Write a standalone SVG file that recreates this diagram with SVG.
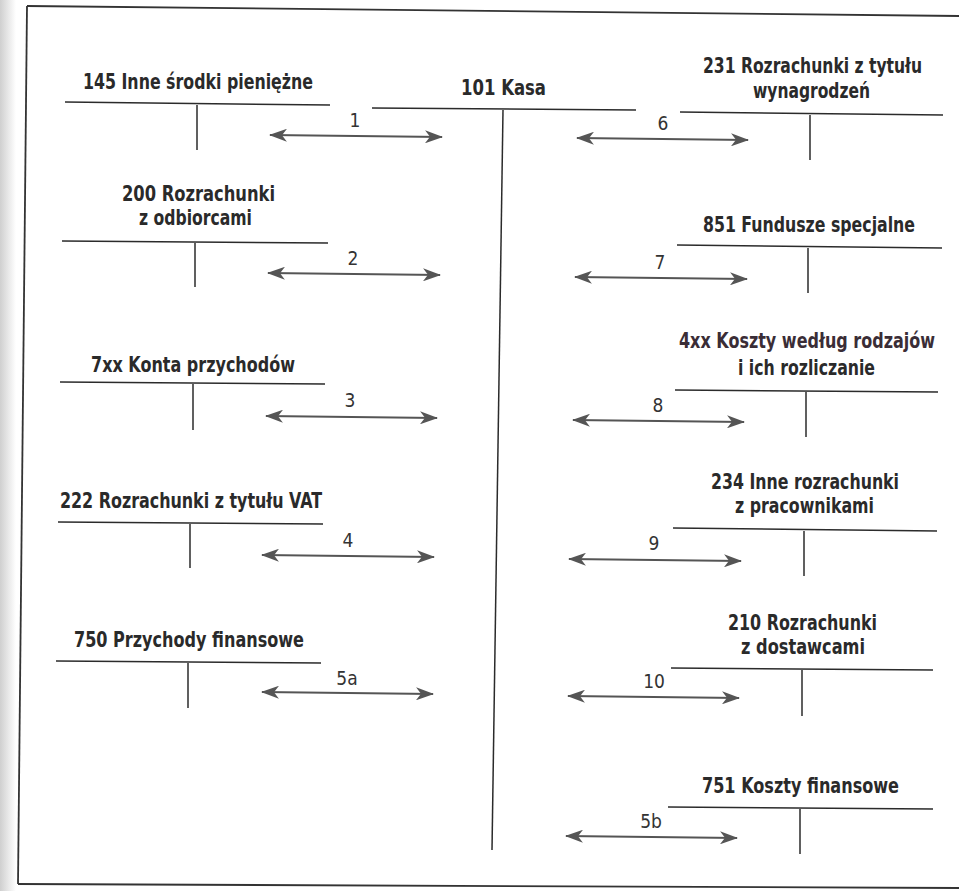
<svg xmlns="http://www.w3.org/2000/svg" width="959" height="891" viewBox="0 0 959 891">
  <defs>
    <linearGradient id="scanEdge" x1="0" y1="0" x2="1" y2="0">
      <stop offset="0" stop-color="#cfcfcf"/>
      <stop offset="1" stop-color="#ffffff"/>
    </linearGradient>
    <marker id="head" viewBox="0 0 18 13" markerWidth="18" markerHeight="13" refX="17" refY="6.5" orient="auto-start-reverse" markerUnits="userSpaceOnUse">
      <path d="M0,0 L18,6.5 L0,13 L5,6.5 Z" fill="#555"/>
    </marker>
    <style>
      .title { font-family: "Liberation Sans Narrow", "DejaVu Sans Condensed", "Liberation Sans", sans-serif; font-stretch: condensed; font-weight: bold; font-size: 21px; fill: #2a2a2a; text-anchor: middle; }
      .num { font-family: "Liberation Sans Narrow", "DejaVu Sans Condensed", "Liberation Sans", sans-serif; font-stretch: condensed; font-size: 19px; fill: #333; text-anchor: middle; }
      .t { stroke: #2b2b2b; stroke-width: 1.5; fill: none; }
      .frame { stroke: #333; stroke-width: 1.8; fill: none; }
      .arrow { stroke: #555; stroke-width: 2; fill: none; marker-start: url(#head); marker-end: url(#head); }
    </style>
  </defs>

  <rect x="0" y="0" width="959" height="891" fill="#ffffff"/>
  <rect x="0" y="0" width="16" height="891" fill="url(#scanEdge)"/>

  <g id="frame">
    <path class="frame" d="M27,6 L959,16"/>
    <path class="frame" d="M27,6 L18,884"/>
    <path class="frame" d="M18,884 L959,888" stroke-width="2.4"/>
  </g>

  <g id="acc-101">
    <text class="title" transform="scale(0.8,1)" x="629.375" y="95" textLength="106.25" lengthAdjust="spacingAndGlyphs">101  Kasa</text>
    <path class="t" d="M372,108 L636,110"/>
    <path class="t" d="M503,110 L492,850"/>
  </g>

  <g id="acc-145">
    <text class="title" transform="scale(0.8,1)" x="247.5" y="89" textLength="287.5" lengthAdjust="spacingAndGlyphs">145  Inne środki pieniężne</text>
    <path class="t" d="M65,102 L330,105"/>
    <path class="t" d="M197,105 L197,150"/>
  </g>

  <g id="acc-200">
    <text class="title" transform="scale(0.8,1)" x="248.125" y="201" textLength="191.25" lengthAdjust="spacingAndGlyphs">200  Rozrachunki</text>
    <text class="title" transform="scale(0.8,1)" x="244.375" y="225" textLength="141.25" lengthAdjust="spacingAndGlyphs">z odbiorcami</text>
    <path class="t" d="M62,241 L328,243"/>
    <path class="t" d="M195,243 L195,287"/>
  </g>

  <g id="acc-7xx">
    <text class="title" transform="scale(0.8,1)" x="241.25" y="372" textLength="255" lengthAdjust="spacingAndGlyphs">7xx  Konta przychodów</text>
    <path class="t" d="M60,382 L325,384"/>
    <path class="t" d="M193,384 L193,430"/>
  </g>

  <g id="acc-222">
    <text class="title" transform="scale(0.8,1)" x="238.75" y="508" textLength="327.5" lengthAdjust="spacingAndGlyphs">222  Rozrachunki z tytułu VAT</text>
    <path class="t" d="M58,522 L323,524"/>
    <path class="t" d="M190,524 L190,568"/>
  </g>

  <g id="acc-750">
    <text class="title" transform="scale(0.8,1)" x="236.25" y="647" textLength="287.5" lengthAdjust="spacingAndGlyphs">750  Przychody finansowe</text>
    <path class="t" d="M56,661 L321,663"/>
    <path class="t" d="M188,663 L188,708"/>
  </g>

  <g id="acc-231">
    <text class="title" transform="scale(0.8,1)" x="1015.625" y="73" textLength="273.75" lengthAdjust="spacingAndGlyphs">231  Rozrachunki z tytułu</text>
    <text class="title" transform="scale(0.8,1)" x="1014.375" y="98" textLength="146.25" lengthAdjust="spacingAndGlyphs">wynagrodzeń</text>
    <path class="t" d="M680,112 L943,115"/>
    <path class="t" d="M810,115 L810,160"/>
  </g>

  <g id="acc-851">
    <text class="title" transform="scale(0.8,1)" x="1011.25" y="232" textLength="265" lengthAdjust="spacingAndGlyphs">851  Fundusze specjalne</text>
    <path class="t" d="M677,245 L942,248"/>
    <path class="t" d="M808,248 L808,293"/>
  </g>

  <g id="acc-4xx">
    <text class="title" transform="scale(0.8,1)" x="1008.75" y="348" textLength="320" lengthAdjust="spacingAndGlyphs" style="fill:#3a2d36">4xx  Koszty według rodzajów</text>
    <text class="title" transform="scale(0.8,1)" x="1008.125" y="375" textLength="171.25" lengthAdjust="spacingAndGlyphs">i ich rozliczanie</text>
    <path class="t" d="M675,390 L938,392"/>
    <path class="t" d="M806,392 L806,437"/>
  </g>

  <g id="acc-234">
    <text class="title" transform="scale(0.8,1)" x="1006.25" y="489" textLength="235" lengthAdjust="spacingAndGlyphs">234  Inne rozrachunki</text>
    <text class="title" transform="scale(0.8,1)" x="1005.625" y="513" textLength="173.75" lengthAdjust="spacingAndGlyphs">z pracownikami</text>
    <path class="t" d="M673,528 L937,531"/>
    <path class="t" d="M804,531 L804,576"/>
  </g>

  <g id="acc-210">
    <text class="title" transform="scale(0.8,1)" x="1003.125" y="630" textLength="186.25" lengthAdjust="spacingAndGlyphs">210  Rozrachunki</text>
    <text class="title" transform="scale(0.8,1)" x="1003.75" y="654" textLength="155" lengthAdjust="spacingAndGlyphs">z dostawcami</text>
    <path class="t" d="M671,668 L933,670"/>
    <path class="t" d="M802,670 L802,716"/>
  </g>

  <g id="acc-751">
    <text class="title" transform="scale(0.8,1)" x="1000.625" y="793" textLength="246.25" lengthAdjust="spacingAndGlyphs">751  Koszty finansowe</text>
    <path class="t" d="M668,807 L933,809"/>
    <path class="t" d="M800,809 L800,854"/>
  </g>

  <g id="connectors">
    <line class="arrow" x1="270" y1="135" x2="442" y2="137"/>
    <text class="num" x="355" y="127">1</text>
    <line class="arrow" x1="268" y1="273" x2="440" y2="275"/>
    <text class="num" x="353" y="265">2</text>
    <line class="arrow" x1="266" y1="416" x2="437" y2="418"/>
    <text class="num" x="350" y="407">3</text>
    <line class="arrow" x1="262" y1="555" x2="434" y2="557"/>
    <text class="num" x="348" y="547">4</text>
    <line class="arrow" x1="262" y1="692" x2="433" y2="694"/>
    <text class="num" x="347" y="685">5a</text>
    <line class="arrow" x1="577" y1="138" x2="748" y2="140"/>
    <text class="num" x="663" y="130">6</text>
    <line class="arrow" x1="575" y1="277" x2="747" y2="279"/>
    <text class="num" x="660" y="269">7</text>
    <line class="arrow" x1="573" y1="420" x2="744" y2="422"/>
    <text class="num" x="658" y="412">8</text>
    <line class="arrow" x1="569" y1="559" x2="741" y2="561"/>
    <text class="num" x="654" y="550">9</text>
    <line class="arrow" x1="568" y1="696" x2="739" y2="698"/>
    <text class="num" x="654" y="688">10</text>
    <line class="arrow" x1="566" y1="836" x2="737" y2="838"/>
    <text class="num" x="651" y="828">5b</text>
  </g>
</svg>
